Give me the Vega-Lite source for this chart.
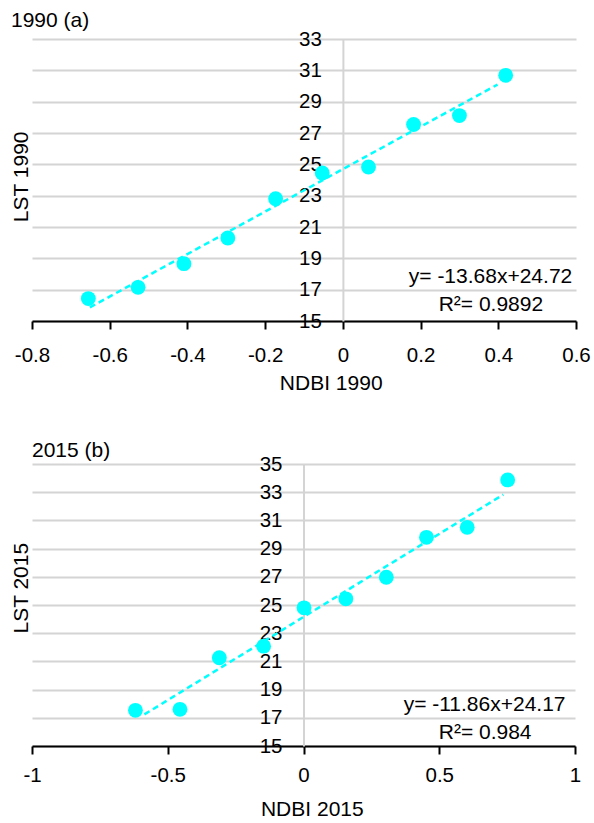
{
  "$schema": "https://vega.github.io/schema/vega-lite/v6.json",
  "padding": {"left": 10, "top": 10, "right": 5, "bottom": 2},
  "spacing": 45,
  "config": {"font": "Liberation Sans", "view": {"stroke": null}},
  "datasets": {
    "pts1990": [
      {"x": -0.655, "y": 16.43}, {"x": -0.527, "y": 17.15}, {"x": -0.409, "y": 18.66},
      {"x": -0.296, "y": 20.30}, {"x": -0.173, "y": 22.81}, {"x": -0.053, "y": 24.45},
      {"x": 0.066, "y": 24.83}, {"x": 0.182, "y": 27.54}, {"x": 0.300, "y": 28.11},
      {"x": 0.419, "y": 30.68}
    ],
    "trend1990": [{"x": -0.651, "y": 15.87}, {"x": 0.398, "y": 30.09}],
    "eq1990": [
      {"x": 0.380, "y": 17.43, "label": "y= -13.68x+24.72"},
      {"x": 0.381, "y": 15.64, "label": "R²= 0.9892"}
    ],
    "pts2015": [
      {"x": -0.619, "y": 17.53}, {"x": -0.455, "y": 17.60}, {"x": -0.310, "y": 21.26},
      {"x": -0.147, "y": 22.08}, {"x": 0.002, "y": 24.80}, {"x": 0.156, "y": 25.44},
      {"x": 0.305, "y": 26.97}, {"x": 0.453, "y": 29.80}, {"x": 0.603, "y": 30.51},
      {"x": 0.752, "y": 33.87}
    ],
    "trend2015": [{"x": -0.586, "y": 17.24}, {"x": 0.736, "y": 32.83}],
    "eq2015": [
      {"x": 0.667, "y": 17.48, "label": "y= -11.86x+24.17"},
      {"x": 0.669, "y": 15.52, "label": "R²= 0.984"}
    ]
  },
  "vconcat": [
    {
      "width": 544,
      "height": 282,
      "title": {"text": "1990 (a)", "anchor": "start", "frame": "group", "dx": -21, "fontSize": 21, "fontWeight": "normal", "baseline": "alphabetic", "offset": -19, "color": "black"},
      "encoding": {
        "x": {
          "field": "x", "type": "quantitative",
          "scale": {"domain": [-0.8, 0.6], "nice": false, "zero": false},
          "axis": {
            "title": "NDBI 1990", "values": [-0.8, -0.6, -0.4, -0.2, 0, 0.2, 0.4, 0.6],
            "labelExpr": "'' + datum.value", "grid": false,
            "domainColor": "black", "domainWidth": 2, "tickColor": "black", "tickWidth": 2, "tickSize": 8,
            "labelFontSize": 20.5, "labelColor": "black", "labelPadding": 16, "labelFlush": false, "labelOverlap": false,
            "titleFontSize": 21, "titleFontWeight": "normal", "titleColor": "black",
            "titleX": 298.7, "titleY": 68.3, "titleBaseline": "alphabetic"
          }
        },
        "y": {
          "field": "y", "type": "quantitative",
          "scale": {"domain": [15, 33], "nice": false, "zero": false},
          "axis": {
            "title": "LST 1990", "values": [15, 17, 19, 21, 23, 25, 27, 29, 31, 33],
            "offset": -310.9, "grid": true, "gridColor": "#d4d4d4", "gridWidth": 2,
            "domainColor": "#d4d4d4", "domainWidth": 2, "ticks": false,
            "labelPadding": 21.5, "labelFontSize": 20.5, "labelColor": "black", "labelFlush": false, "labelOverlap": false,
            "titleFontSize": 21, "titleFontWeight": "normal", "titleColor": "black",
            "titleX": -315.2, "titleY": 137.3, "titleBaseline": "alphabetic", "titleAngle": -90
          }
        }
      },
      "layer": [
        {"data": {"name": "trend1990"}, "mark": {"type": "line", "color": "#00ffff", "strokeDash": [6, 4], "strokeWidth": 2.5}},
        {"data": {"name": "pts1990"}, "mark": {"type": "circle", "size": 220, "opacity": 1, "color": "#00ffff"}},
        {"data": {"name": "eq1990"}, "mark": {"type": "text", "fontSize": 21, "align": "center", "baseline": "alphabetic", "color": "black"},
         "encoding": {"text": {"field": "label", "type": "nominal"}}}
      ]
    },
    {
      "width": 543,
      "height": 282,
      "title": {"text": "2015 (b)", "anchor": "start", "frame": "group", "dx": 0, "fontSize": 21, "fontWeight": "normal", "baseline": "alphabetic", "offset": -23.5, "color": "black"},
      "encoding": {
        "x": {
          "field": "x", "type": "quantitative",
          "scale": {"domain": [-1, 1], "nice": false, "zero": false},
          "axis": {
            "title": "NDBI 2015", "values": [-1, -0.5, 0, 0.5, 1],
            "labelExpr": "'' + datum.value", "grid": false,
            "domainColor": "black", "domainWidth": 2, "tickColor": "black", "tickWidth": 2, "tickSize": 8,
            "labelFontSize": 20.5, "labelColor": "black", "labelPadding": 11, "labelFlush": false, "labelOverlap": false,
            "titleFontSize": 21, "titleFontWeight": "normal", "titleColor": "black",
            "titleX": 279.8, "titleY": 69.3, "titleBaseline": "alphabetic"
          }
        },
        "y": {
          "field": "y", "type": "quantitative",
          "scale": {"domain": [15, 35], "nice": false, "zero": false},
          "axis": {
            "title": "LST 2015", "values": [15, 17, 19, 21, 23, 25, 27, 29, 31, 33, 35],
            "offset": -271.5, "grid": true, "gridColor": "#d4d4d4", "gridWidth": 2,
            "domainColor": "#d4d4d4", "domainWidth": 2, "ticks": false,
            "labelPadding": 21.5, "labelFontSize": 20.5, "labelColor": "black", "labelFlush": false, "labelOverlap": false,
            "titleFontSize": 21, "titleFontWeight": "normal", "titleColor": "black",
            "titleX": -275.8, "titleY": 123.7, "titleBaseline": "alphabetic", "titleAngle": -90
          }
        }
      },
      "layer": [
        {"data": {"name": "trend2015"}, "mark": {"type": "line", "color": "#00ffff", "strokeDash": [6, 4], "strokeWidth": 2.5}},
        {"data": {"name": "pts2015"}, "mark": {"type": "circle", "size": 220, "opacity": 1, "color": "#00ffff"}},
        {"data": {"name": "eq2015"}, "mark": {"type": "text", "fontSize": 21, "align": "center", "baseline": "alphabetic", "color": "black"},
         "encoding": {"text": {"field": "label", "type": "nominal"}}}
      ]
    }
  ]
}
